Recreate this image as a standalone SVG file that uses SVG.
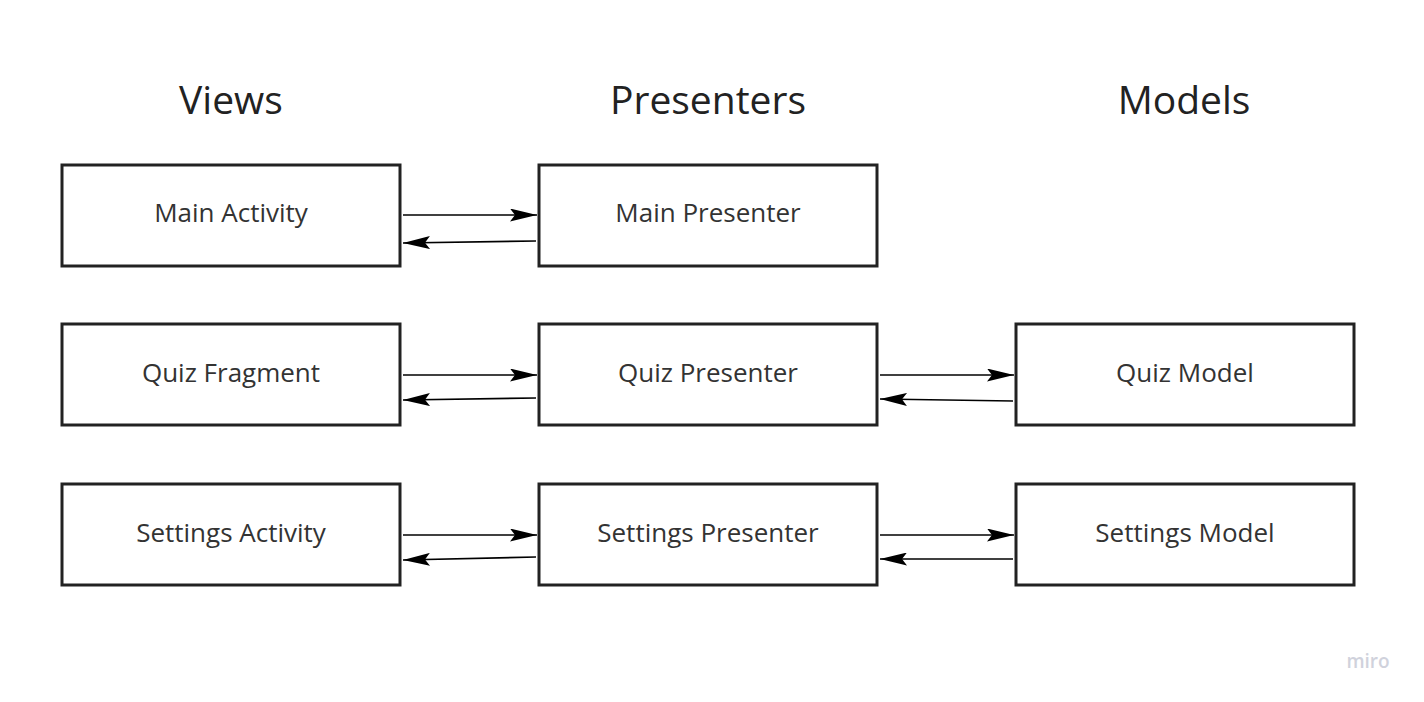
<svg xmlns="http://www.w3.org/2000/svg" width="1424" height="702" viewBox="0 0 1424 702">
<style>
.box{fill:#fff;stroke:#222;stroke-width:3}
.lbl{font-family:"Open Sans",sans-serif;font-size:26px;fill:#333;text-anchor:middle}
.hdr{font-family:"Open Sans",sans-serif;font-size:39px;fill:#222;text-anchor:middle}
.con{stroke:#000;stroke-width:1.7;fill:none}
</style>
<defs>
<marker id="ah" viewBox="0 0 27 13" refX="27" refY="6.5" markerWidth="27" markerHeight="13" markerUnits="userSpaceOnUse" orient="auto">
<path d="M0,0 L27,6.5 L0,13 L5,6.5 Z" fill="#000"/>
</marker>
</defs>
<rect width="1424" height="702" fill="#fff"/>
<g id="headers">
<text class="hdr" x="231" y="114">Views</text>
<text class="hdr" x="708" y="114">Presenters</text>
<text class="hdr" x="1184" y="114">Models</text>
</g>
<g id="main-activity"><rect class="box" x="62" y="165" width="338" height="101"/><text class="lbl" x="231" y="222">Main Activity</text></g>
<g id="main-presenter"><rect class="box" x="539" y="165" width="338" height="101"/><text class="lbl" x="708" y="222">Main Presenter</text></g>
<g id="quiz-fragment"><rect class="box" x="62" y="324" width="338" height="101"/><text class="lbl" x="231" y="382">Quiz Fragment</text></g>
<g id="quiz-presenter"><rect class="box" x="539" y="324" width="338" height="101"/><text class="lbl" x="708" y="382">Quiz Presenter</text></g>
<g id="quiz-model"><rect class="box" x="1016" y="324" width="338" height="101"/><text class="lbl" x="1185" y="382">Quiz Model</text></g>
<g id="settings-activity"><rect class="box" x="62" y="484" width="338" height="101"/><text class="lbl" x="231" y="542">Settings Activity</text></g>
<g id="settings-presenter"><rect class="box" x="539" y="484" width="338" height="101"/><text class="lbl" x="708" y="542">Settings Presenter</text></g>
<g id="settings-model"><rect class="box" x="1016" y="484" width="338" height="101"/><text class="lbl" x="1185" y="542">Settings Model</text></g>
<g id="connectors">
<path class="con" d="M403,215 L537,215" marker-end="url(#ah)"/>
<path class="con" d="M536,241 L403,243" marker-end="url(#ah)"/>
<path class="con" d="M403,375 L537,375" marker-end="url(#ah)"/>
<path class="con" d="M536,398 L403,400" marker-end="url(#ah)"/>
<path class="con" d="M880,375 L1014,375" marker-end="url(#ah)"/>
<path class="con" d="M1013,401 L880,399" marker-end="url(#ah)"/>
<path class="con" d="M403,535 L537,535" marker-end="url(#ah)"/>
<path class="con" d="M536,557 L403,560" marker-end="url(#ah)"/>
<path class="con" d="M880,535 L1014,535" marker-end="url(#ah)"/>
<path class="con" d="M1013,559 L880,559" marker-end="url(#ah)"/>
</g>
<text x="1368" y="668" font-family="'Open Sans',sans-serif" font-size="19" font-weight="600" fill="#d0d2dc" text-anchor="middle">miro</text>
</svg>
